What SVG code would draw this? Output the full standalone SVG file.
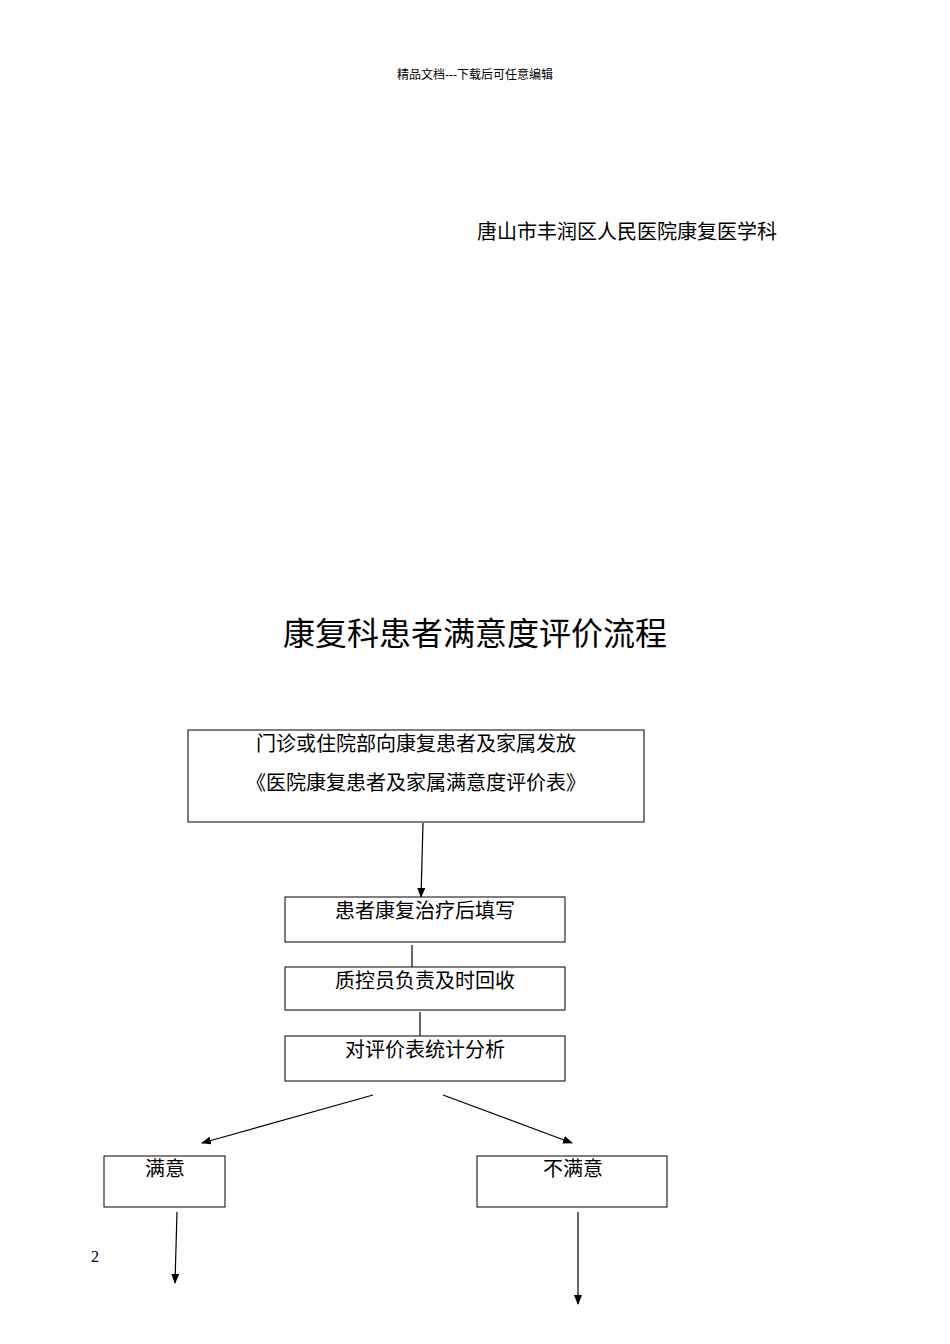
<svg xmlns="http://www.w3.org/2000/svg" width="950" height="1344" viewBox="0 0 950 1344">
<defs>
<marker id="ah" markerWidth="10" markerHeight="8" refX="9" refY="4" orient="auto" markerUnits="userSpaceOnUse"><path d="M0,0 L10,4 L0,8 z" fill="#000"/></marker>
<style>
.t{font-family:"Liberation Sans","Noto Sans CJK SC",sans-serif;fill:#000}
.b{fill:#fff;stroke:#000;stroke-width:1}
.c{stroke:#000;stroke-width:1.2;fill:none;marker-end:url(#ah)}
</style>
</defs>
<rect width="950" height="1344" fill="#fff"/>
<text class="t" x="475" y="79" font-size="12" text-anchor="middle" fill="#444">精品文档---下载后可任意编辑</text>
<text class="t" x="627" y="239" font-size="20" text-anchor="middle">唐山市丰润区人民医院康复医学科</text>
<text class="t" x="475" y="645" font-size="32" text-anchor="middle">康复科患者满意度评价流程</text>
<g id="connectors">
<line class="c" x1="423" y1="823" x2="421" y2="897"/>
<line class="c" x1="412" y1="945" x2="412" y2="994"/>
<line class="c" x1="420" y1="1012" x2="420" y2="1058"/>
<line class="c" x1="373" y1="1095" x2="202" y2="1143"/>
<line class="c" x1="443" y1="1095" x2="572" y2="1143"/>
<line class="c" x1="177" y1="1212" x2="175" y2="1283"/>
<line class="c" x1="578" y1="1212" x2="578" y2="1304"/>
</g>
<g id="n1"><rect class="b" x="188" y="730" width="456" height="92"/>
<text class="t" x="416" y="751" font-size="20" text-anchor="middle">门诊或住院部向康复患者及家属发放</text>
<text class="t" x="416" y="790" font-size="20" text-anchor="middle">《医院康复患者及家属满意度评价表》</text></g>
<g id="n2"><rect class="b" x="285" y="897" width="280" height="45"/>
<text class="t" x="425" y="918" font-size="20" text-anchor="middle">患者康复治疗后填写</text></g>
<g id="n3"><rect class="b" x="285" y="967" width="280" height="43"/>
<text class="t" x="425" y="988" font-size="20" text-anchor="middle">质控员负责及时回收</text></g>
<g id="n4"><rect class="b" x="285" y="1036" width="280" height="45"/>
<text class="t" x="425" y="1057" font-size="20" text-anchor="middle">对评价表统计分析</text></g>
<g id="n5"><rect class="b" x="104" y="1156" width="121" height="51"/>
<text class="t" x="165" y="1176" font-size="20" text-anchor="middle">满意</text></g>
<g id="n6"><rect class="b" x="477" y="1156" width="190" height="51"/>
<text class="t" x="573" y="1176" font-size="20" text-anchor="middle">不满意</text></g>
<text x="95" y="1262" font-size="16" font-family="Liberation Serif,serif" text-anchor="middle">2</text>
</svg>
